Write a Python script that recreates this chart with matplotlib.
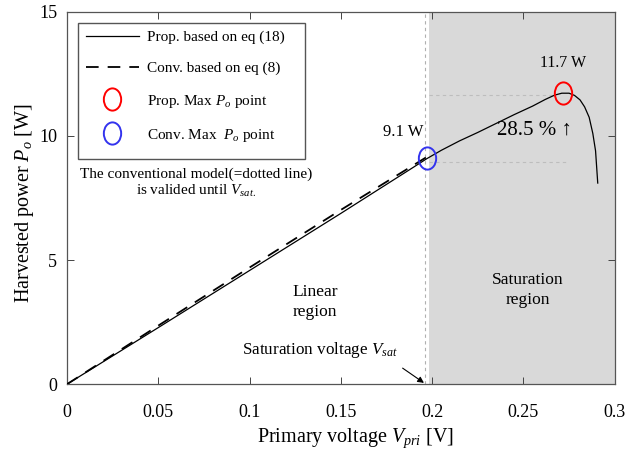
import numpy as np
import matplotlib
matplotlib.use('Agg')
import matplotlib.pyplot as plt
from matplotlib.path import Path
from matplotlib.patches import Rectangle
from matplotlib.transforms import Affine2D
from matplotlib.markers import MarkerStyle

plt.rcParams['font.family'] = ['Liberation Serif', 'DejaVu Serif']
plt.rcParams['mathtext.fontset'] = 'custom'
plt.rcParams['mathtext.rm'] = 'Liberation Serif'
plt.rcParams['mathtext.it'] = 'Liberation Serif:italic'

# 数据：提出模型 (eq 18)
prop_v = [0, 0.05, 0.1, 0.15, 0.19, 0.197, 0.205, 0.215, 0.225, 0.235, 0.245, 0.255,
          0.262, 0.267, 0.271, 0.275, 0.278, 0.281, 0.2835, 0.286, 0.288, 0.2895, 0.2907]
prop_p = [0, 2.28, 4.58, 6.88, 8.75, 9.08, 9.42, 9.80, 10.14, 10.50, 10.86, 11.20,
          11.47, 11.64, 11.72, 11.72, 11.63, 11.45, 11.17, 10.75, 10.10, 9.40, 8.10]

# 传统模型 (eq 8)
conv_v = [0, 0.05, 0.1, 0.15, 0.197]
conv_p = [0, 2.36, 4.70, 7.02, 9.15]

# 最大点
prop_max = (0.2715, 11.73)
conv_max = (0.197, 9.10)
v_sat = 0.196

# 椭圆标记
oval = MarkerStyle(Path.unit_circle().transformed(Affine2D().scale(0.78, 1.0)))

fig = plt.figure(figsize=(6.39, 4.53), dpi=100)
ax = fig.add_axes([0.105, 0.152, 0.857, 0.822])

ax.axvspan(0.198, 0.3, color='#d9d9d9', lw=0, zorder=0)
ax.axvline(v_sat, color='#b0b0b0', lw=0.8, ls=(0, (3, 3)), zorder=1)
ax.plot([0.198, 0.266], [prop_max[1] - 0.1, prop_max[1] - 0.1], color='#bdbdbd', lw=0.8, ls=(0, (3, 3)))
ax.plot([0.198, 0.274], [conv_max[1] - 0.15, conv_max[1] - 0.15], color='#bdbdbd', lw=0.8, ls=(0, (3, 3)))

ax.plot(prop_v, prop_p, color='black', lw=0.9, label='Prop. based on eq (18)', zorder=3)
ax.plot(conv_v, conv_p, color='black', lw=1.3, ls=(0, (7, 5)), label='Conv. based on eq (8)', zorder=3)
ax.plot(*prop_max, ls='none', marker=oval, ms=16, mfc='none', mec='red', mew=1.4,
        label='Prop. Max $P_o$ point', zorder=4)
ax.plot(*conv_max, ls='none', marker=oval, ms=16, mfc='none', mec='#3333ee', mew=1.4,
        label='Conv. Max  $P_o$ point', zorder=4)

ax.set_xlim(0, 0.3)
ax.set_ylim(0, 15)
ax.set_xticks([0, 0.05, 0.1, 0.15, 0.2, 0.25, 0.3])
ax.set_xticklabels(['0', '0.05', '0.1', '0.15', '0.2', '0.25', '0.3'])
ax.set_yticks([0, 5, 10, 15])
ax.tick_params(direction='in', top=True, right=True, labelsize=13, length=5, width=0.7,
               color='#444444')
ax.tick_params(axis='x', pad=14)
ax.tick_params(axis='y', pad=7)
for s in ax.spines.values():
    s.set_color('#555555')
    s.set_linewidth(0.9)

ax.set_xlabel('Primary voltage $V_{pri}$ [V]', fontsize=14.5)
ax.set_ylabel('Harvested power $P_o$ [W]', fontsize=14.5)
ax.xaxis.set_label_coords(0.527, -0.115)
ax.yaxis.set_label_coords(-0.057, 0.487)

ax.text(0.2715, 12.95, '11.7 W', fontsize=11.5, ha='center', va='center')
ax.text(0.184, 10.15, '9.1 W', fontsize=12, ha='center', va='center')
ax.text(0.2562, 10.24, '28.5 % ↑', fontsize=15, ha='center', va='center')
ax.text(0.136, 3.3, 'Linear\nregion', fontsize=12.5, ha='center', va='center', linespacing=1.3)
ax.text(0.2524, 3.8, 'Saturation\nregion', fontsize=12.5, ha='center', va='center', linespacing=1.3)
ax.text(0.0706, 8.1, 'The conventional model(=dotted line)\nis valided until $V_{sat.}$',
        fontsize=11, ha='center', va='center', linespacing=1.2)
ax.annotate('Saturation voltage $V_{sat}$', xy=(0.1955, 0.05), xytext=(0.1385, 1.37),
            fontsize=12.3, ha='center', va='center',
            arrowprops=dict(arrowstyle='-|>', color='black', lw=0.8,
                            shrinkA=0, shrinkB=0, mutation_scale=9,
                            relpos=(1.03, -0.4)))

# 图例（外框单独画）
leg = ax.legend(loc='upper left', bbox_to_anchor=(0.020, 0.970), fontsize=11,
                handlelength=3.47, labelspacing=1.12, borderpad=0.5, handletextpad=0.52,
                frameon=False, borderaxespad=0)
leg.set_zorder(6)
ax.add_patch(Rectangle((0.020, 0.605), 0.414, 0.365, transform=ax.transAxes,
                       facecolor='white', edgecolor='#555555', lw=1.0, zorder=5))

fig.savefig('out.png', dpi=100)
